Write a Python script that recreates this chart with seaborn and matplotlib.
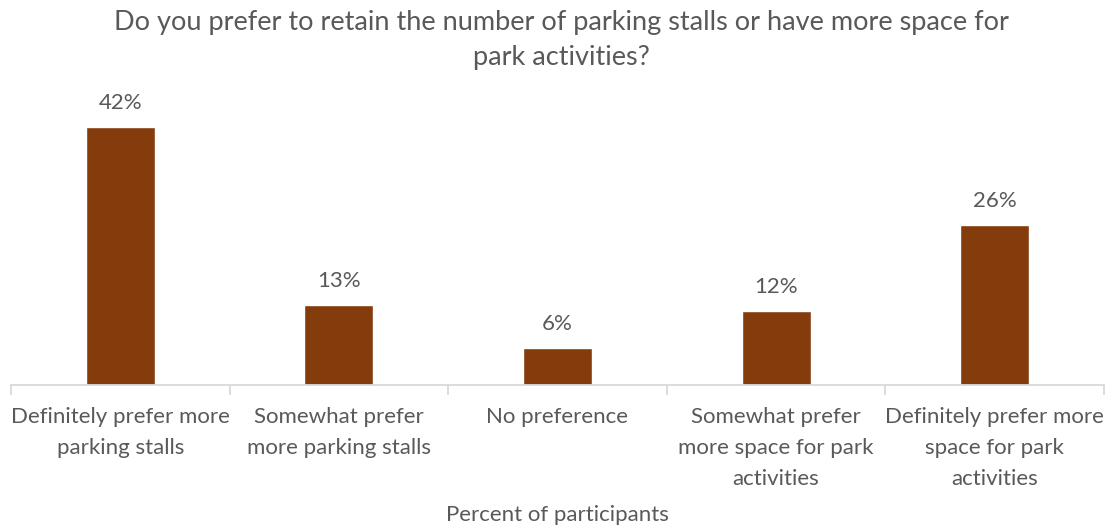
import matplotlib
matplotlib.use("Agg")
import matplotlib.pyplot as plt
import seaborn as sns
import pandas as pd

categories = [
    "Definitely prefer more\nparking stalls",
    "Somewhat prefer\nmore parking stalls",
    "No preference",
    "Somewhat prefer\nmore space for park\nactivities",
    "Definitely prefer more\nspace for park\nactivities",
]
percent = [42, 13, 6, 12, 26]
title = "Do you prefer to retain the number of parking stalls or have more space for\npark activities?"
xlabel = "Percent of participants"

BAR = "#843C0C"
TEXT = "#595959"
AXIS = "#D9D9D9"

sns.set_theme(style="white")
plt.rcParams["font.family"] = ["Lato", "DejaVu Sans"]

df = pd.DataFrame({"category": categories, "percent": percent})

fig = plt.figure(figsize=(11.07, 5.25), dpi=100)
ax = fig.add_axes([11 / 1107, 140 / 525, 1093 / 1107, 285 / 525])

sns.barplot(data=df, x="category", y="percent", color=BAR, width=0.316,
            saturation=1, ax=ax)

ax.set_ylim(0, 46.4)
ax.set_xlim(-0.5, len(categories) - 0.5)
for i, v in enumerate(percent):
    ax.text(i, v + 2.3, f"{v}%", ha="center", va="bottom", fontsize=16, color=TEXT)

for s in ["top", "right", "left"]:
    ax.spines[s].set_visible(False)
ax.spines["bottom"].set_color(AXIS)
ax.spines["bottom"].set_linewidth(1.3)
ax.set_yticks([])
ax.set_ylabel("")
ax.set_xlabel(xlabel, fontsize=16, color=TEXT, labelpad=12)

ax.tick_params(axis="x", which="major", length=0, pad=16, labelsize=16, labelcolor=TEXT)
ax.set_xticks(range(len(categories)))
ax.set_xticklabels(categories, linespacing=1.67, va="top")
ax.set_xticks([i - 0.5 for i in range(len(categories) + 1)], minor=True)
ax.tick_params(axis="x", which="minor", length=7, width=1.3, color=AXIS, bottom=True)

fig.text(0.507, 1 - 40 / 525, title, ha="center", va="center", fontsize=19.5,
         color=TEXT, linespacing=1.47)

fig.savefig("out.png", dpi=100)
